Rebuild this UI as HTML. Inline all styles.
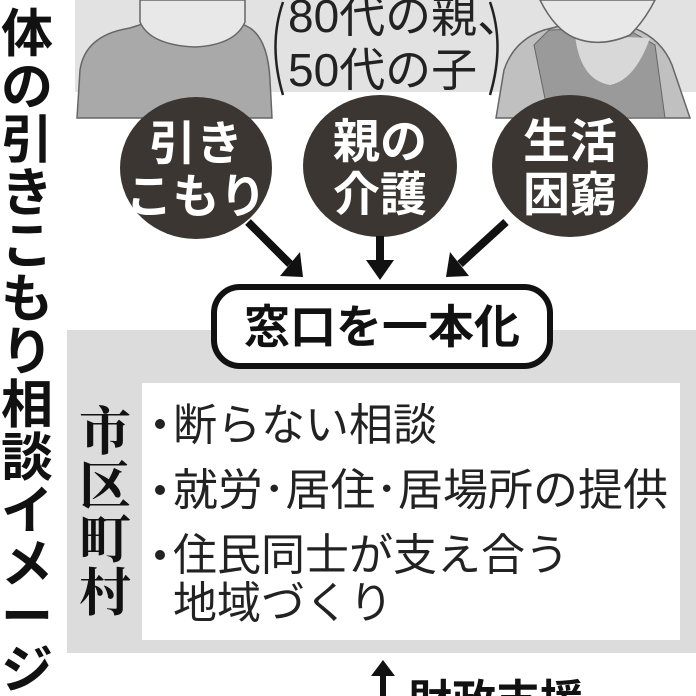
<!DOCTYPE html>
<html><head><meta charset="utf-8"><style>
html,body{margin:0;padding:0;background:#fff}
svg{display:block}
.g{font-family:"Liberation Sans","Noto Sans CJK JP",sans-serif}
.m{font-family:"Liberation Serif","Noto Serif CJK SC",serif}
</style></head><body>
<svg width="696" height="696" viewBox="0 0 696 696" xmlns="http://www.w3.org/2000/svg">
<rect x="75" y="0" width="621" height="92" fill="#e2e2e2"/>
<!-- left person -->
<path d="M77 118 L80 70 Q85 35 130 28 L155 20 L235 20 L250 28 Q268 40 270 80 L272 118 Z" fill="#a9a9a9" stroke="#666" stroke-width="1.5"/>
<path d="M140 0 L140 22 Q150 45 195 47 Q235 45 245 22 L245 0 Z" fill="#e8e8e8" stroke="#666" stroke-width="1.5"/>
<!-- right person -->
<path d="M496 118 L504 70 Q514 40 544 30 L564 25 L625 25 Q660 35 672 65 L690 118 Z" fill="#c0c0c0" stroke="#666" stroke-width="1.5"/>
<path d="M534 45 L549 30 L625 28 L655 45 L665 118 L549 118 Z" fill="#9a9a9a" stroke="#666" stroke-width="1"/>
<path d="M575 35 Q580 80 610 85 Q635 80 650 38 Z" fill="#d8d8d8"/>
<path d="M540 0 Q555 30 575 38 Q600 48 630 35 Q645 20 655 0 Z" fill="#e8e8e8" stroke="#666" stroke-width="1.5"/>
<!-- parenthetical -->
<path d="M283 2 Q268 45 283 95" fill="none" stroke="#222" stroke-width="2.5"/>
<path d="M490 2 Q505 45 490 95" fill="none" stroke="#222" stroke-width="2.5"/>
<text x="288" y="32" class="g" font-size="46" fill="#222">80代の親、</text>
<text x="288" y="86" class="g" font-size="46" fill="#222">50代の子</text>
<!-- circles -->
<g fill="#3b3632">
<ellipse cx="196" cy="168" rx="76" ry="71"/>
<ellipse cx="380" cy="166" rx="77" ry="71"/>
<ellipse cx="570" cy="166" rx="78" ry="71"/>
</g>
<g class="g" font-size="47" font-weight="bold" fill="#fff" text-anchor="middle">
<text x="196" y="160">引き</text><text x="196" y="213">こもり</text>
<text x="380" y="158">親の</text><text x="380" y="211">介護</text>
<text x="570" y="158">生活</text><text x="570" y="211">困窮</text>
</g>
<!-- arrows -->
<g stroke="#111" stroke-width="8" fill="#111">
<line x1="248" y1="222" x2="290" y2="264"/>
<line x1="380" y1="236" x2="380" y2="262"/>
<line x1="506" y1="222" x2="460" y2="264"/>
</g>
<g fill="#111">
<polygon points="303,277 280,276 300,252"/>
<polygon points="380,280 366,260 394,260"/>
<polygon points="446,277 469,276 450,252"/>
</g>
<!-- gray region -->
<rect x="67" y="330" width="629" height="323" fill="#dcdcdc"/>
<rect x="142" y="383" width="538" height="257" fill="#fff"/>
<!-- box -->
<rect x="214" y="287" width="336" height="79" rx="26" fill="#fff" stroke="#111" stroke-width="6"/>
<text x="382" y="343" class="g" font-size="46" font-weight="bold" fill="#111" text-anchor="middle">窓口を一本化</text>
<!-- 市区町村 -->
<g class="m" font-size="52" font-weight="bold" fill="#111" text-anchor="middle">
<text x="105" y="450">市</text><text x="105" y="504">区</text><text x="105" y="558">町</text><text x="105" y="611">村</text>
</g>
<g fill="#222">
<circle cx="160" cy="424" r="5"/><circle cx="160" cy="490" r="5"/><circle cx="160" cy="555" r="5"/>
</g>
<g class="g" font-size="44" fill="#222">
<text x="173" y="440">断らない相談</text>
<text x="173" y="505" textLength="495" lengthAdjust="spacingAndGlyphs">就労･居住･居場所の提供</text>
<text x="173" y="570">住民同士が支え合う</text>
<text x="173" y="618">地域づくり</text>
</g>
<!-- left title -->
<g class="g" font-size="52" font-weight="bold" fill="#111" text-anchor="middle">
<text x="27" y="52">体</text><text x="27" y="105">の</text><text x="27" y="158">引</text><text x="27" y="211">き</text><text x="27" y="264">こ</text><text x="27" y="317">も</text><text x="27" y="370">り</text><text x="27" y="423">相</text><text x="27" y="476">談</text><text x="27" y="529">イ</text><text x="27" y="582">メ</text><text x="27" y="635">ー</text><text x="27" y="688">ジ</text>
</g>
<!-- bottom -->
<line x1="383" y1="672" x2="383" y2="696" stroke="#111" stroke-width="6"/>
<polygon points="383,660 371,676 395,676" fill="#111"/>
<text x="408" y="716" class="g" font-size="44" font-weight="bold" fill="#111">財政支援</text>
</svg>
</body></html>
